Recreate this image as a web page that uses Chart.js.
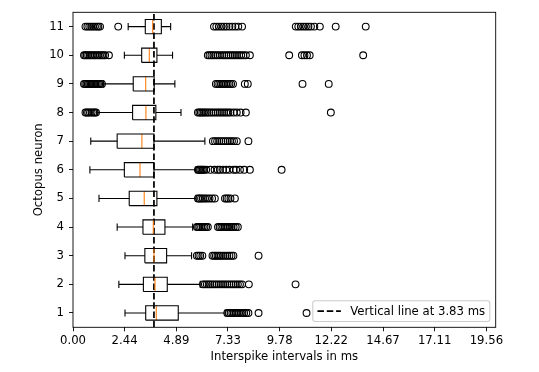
<!DOCTYPE html>
<html lang="en">
<head>
  <meta charset="UTF-8">
  <title>Interspike intervals per octopus neuron</title>
  <script src="https://cdn.jsdelivr.net/npm/chart.js@4.4.1/dist/chart.umd.min.js"></script>
  <style>
    body { margin: 0; background: #fff; }
  </style>
</head>
<body>
  <canvas id="chart" width="539" height="372"></canvas>
  <script>
    // neuron labels, bottom to top
    const neurons = ['1', '2', '3', '4', '5', '6', '7', '8', '9', '10', '11'];

    // box plot stats (ms)
    const whiskerLow  = [2.46, 2.17, 2.46, 2.09, 1.23, 0.80, 0.84, 1.15, 1.45, 2.43, 2.61];
    const q1          = [3.44, 3.33, 3.40, 3.31, 2.66, 2.43, 2.09, 2.82, 2.85, 3.25, 3.42];
    const medians     = [3.94, 3.88, 3.83, 3.80, 3.37, 3.17, 3.26, 3.45, 3.44, 3.61, 3.77];
    const q3          = [4.98, 4.46, 4.43, 4.35, 3.97, 3.83, 3.83, 3.92, 3.84, 3.97, 4.18];
    const whiskerHigh = [7.20, 6.02, 5.61, 5.66, 5.82, 5.82, 6.24, 5.11, 4.82, 4.71, 4.62];

    // fliers per neuron
    const outliers = [
      [7.3, 7.38, 7.46, 7.54, 7.62, 7.7, 7.78, 7.86, 7.94, 8.02, 8.1, 8.2, 8.3, 8.78, 11.05],
      [6.15, 6.24, 6.33, 6.42, 6.5, 6.6, 6.7, 6.8, 6.9, 7.0, 7.1, 7.2, 7.3, 7.4, 7.5, 7.6, 7.7, 7.8, 7.9, 8.0, 8.32, 10.53],
      [5.86, 5.94, 6.02, 6.12, 6.6, 6.68, 6.76, 6.84, 6.92, 7.0, 7.1, 7.2, 7.3, 7.4, 7.5, 7.59, 8.78],
      [5.86, 5.92, 5.98, 6.06, 6.14, 6.22, 6.3, 6.38, 6.86, 6.94, 7.02, 7.1, 7.18, 7.26, 7.34, 7.42, 7.5, 7.6, 7.7, 7.8],
      [5.91, 5.98, 6.06, 6.14, 6.24, 6.34, 6.46, 6.58, 6.71, 7.19, 7.27, 7.35, 7.45, 7.66],
      [5.91, 5.96, 6.02, 6.08, 6.14, 6.2, 6.3, 6.5, 6.7, 6.85, 6.95, 7.1, 7.25, 7.4, 7.6, 7.72, 7.9, 8.1, 8.37, 9.87],
      [6.62, 6.72, 6.82, 6.92, 7.02, 7.12, 7.22, 7.32, 7.42, 7.52, 7.62, 7.75, 8.3],
      [0.59, 0.66, 0.72, 0.8, 0.88, 0.96, 1.03, 1.09,
       5.91, 5.98, 6.05, 6.12, 6.2, 6.28, 6.36, 6.45, 6.55, 6.65, 6.75, 6.85, 6.95, 7.05, 7.15, 7.25, 7.35, 7.45, 7.6, 7.75, 7.93, 8.18, 12.2],
      [0.52, 0.58, 0.64, 0.7, 0.76, 0.82, 0.88, 0.94, 1.0, 1.06, 1.12, 1.18, 1.24, 1.3, 1.37,
       6.76, 6.84, 6.92, 7.0, 7.08, 7.16, 7.24, 7.32, 7.4, 7.48, 7.57, 8.13, 8.27, 10.86, 12.1],
      [0.52, 0.58, 0.65, 0.72, 0.8, 0.88, 0.96, 1.04, 1.12, 1.2, 1.28, 1.36, 1.44, 1.52, 1.7,
       6.38, 6.46, 6.55, 6.64, 6.74, 6.84, 6.95, 7.06, 7.16, 7.26, 7.36, 7.46, 7.56, 7.66, 7.76, 7.86, 7.96, 8.06, 8.18, 8.37,
       10.23, 10.83, 10.95, 11.07, 11.2, 13.73],
      [0.59, 0.68, 0.77, 0.86, 0.95, 1.04, 1.13, 1.2, 1.28, 2.14,
       6.67, 6.78, 6.9, 7.02, 7.14, 7.26, 7.4, 7.54, 7.68, 7.82, 8.0,
       10.54, 10.66, 10.78, 10.9, 11.02, 11.14, 11.26, 11.42, 11.68, 12.43, 13.85]
    ];

    const refLine = 3.83;
    const xTicks = [0, 2.44, 4.89, 7.33, 9.78, 12.22, 14.67, 17.11, 19.56];

    const FS = 11.7;
    Chart.defaults.font.family = '"DejaVu Sans", sans-serif';
    Chart.defaults.font.size = FS;
    Chart.defaults.color = '#000';

    // build the line pieces, null points break the path
    const gap = {x: null, y: null};
    const boxPts = [], whiskPts = [], medPts = [], fliers = [];
    neurons.forEach((n, i) => {
      const y = i + 1;
      boxPts.push({x: q1[i], y: y - 0.25}, {x: q3[i], y: y - 0.25}, {x: q3[i], y: y + 0.25},
                  {x: q1[i], y: y + 0.25}, {x: q1[i], y: y - 0.25}, gap);
      whiskPts.push({x: whiskerLow[i], y: y}, {x: q1[i], y: y}, gap,
                    {x: q3[i], y: y}, {x: whiskerHigh[i], y: y}, gap,
                    {x: whiskerLow[i], y: y - 0.125}, {x: whiskerLow[i], y: y + 0.125}, gap,
                    {x: whiskerHigh[i], y: y - 0.125}, {x: whiskerHigh[i], y: y + 0.125}, gap);
      medPts.push({x: medians[i], y: y - 0.25}, {x: medians[i], y: y + 0.25}, gap);
      outliers[i].forEach(v => fliers.push({x: v, y: y}));
    });

    const segment = (data, color, width) => ({
      data: data, showLine: true, spanGaps: false, borderColor: color, borderWidth: width,
      pointRadius: 0, fill: false, borderCapStyle: 'butt'
    });

    const legendLabel = 'Vertical line at ' + refLine.toFixed(2) + ' ms';

    const frameAndLegend = {
      id: 'frameAndLegend',
      afterDatasetsDraw(chart) {
        const ctx = chart.ctx, a = chart.chartArea;
        ctx.save();
        ctx.strokeStyle = '#000';
        ctx.lineWidth = 0.9;
        ctx.strokeRect(a.left, a.top, a.right - a.left, a.bottom - a.top);

        ctx.font = FS + 'px "DejaVu Sans"';
        const tw = ctx.measureText(legendLabel).width;
        const pad = 0.4 * FS, handle = 2 * FS, gapT = 0.8 * FS;
        const w = pad + handle + gapT + tw + pad;
        const h = 20.7;
        const right = a.right - 0.5 * FS, bottom = a.bottom - 0.5 * FS;
        const left = right - w, top = bottom - h;
        ctx.beginPath();
        ctx.roundRect(left, top, w, h, 2.5);
        ctx.fillStyle = 'rgba(255,255,255,0.8)';
        ctx.fill();
        ctx.strokeStyle = '#cccccc';
        ctx.lineWidth = 1.1;
        ctx.stroke();

        const cy = top + h / 2;
        ctx.beginPath();
        ctx.setLineDash([6.5, 2.8]);
        ctx.strokeStyle = '#000';
        ctx.lineWidth = 1.75;
        ctx.moveTo(left + pad, cy);
        ctx.lineTo(left + pad + handle, cy);
        ctx.stroke();
        ctx.setLineDash([]);
        ctx.fillStyle = '#000';
        ctx.textBaseline = 'middle';
        ctx.textAlign = 'left';
        ctx.fillText(legendLabel, left + pad + handle + gapT, cy + 0.5);
        ctx.restore();
      }
    };

    const ctx = document.getElementById('chart').getContext('2d');
    const chart = new Chart(ctx, {
      type: 'scatter',
      data: {
        datasets: [
          segment(boxPts, '#000', 1.1),
          segment(whiskPts, '#000', 1.1),
          segment(medPts, '#ff7f0e', 1.1),
          {
            data: fliers, showLine: false, pointStyle: 'circle', pointRadius: 3.4,
            pointBorderColor: '#000', pointBackgroundColor: 'rgba(0,0,0,0)', pointBorderWidth: 1.1
          },
          Object.assign(segment([{x: refLine, y: 0.5}, {x: refLine, y: 11.5}], '#000', 1.75),
                        {borderDash: [6.5, 2.8]})
        ]
      },
      options: {
        responsive: false,
        animation: false,
        events: [],
        devicePixelRatio: 1,
        layout: { padding: { top: 12.3, right: 43.3, left: 0, bottom: 0 } },
        plugins: { legend: { display: false }, tooltip: { enabled: false } },
        scales: {
          x: {
            type: 'linear', min: 0, max: 20,
            afterBuildTicks: s => { s.ticks = xTicks.map(v => ({value: v})); },
            afterFit: s => { s.height = 44.7; },
            ticks: { callback: v => v.toFixed(2), autoSkip: false, maxRotation: 0, padding: 3 },
            grid: { display: true, drawOnChartArea: false, drawTicks: true, tickLength: 4,
                    tickColor: '#000', lineWidth: 0.9 },
            border: { display: false },
            title: { display: true, text: 'Interspike intervals in ms', padding: { top: 0, bottom: 8.3 } }
          },
          y: {
            type: 'linear', min: 0.5, max: 11.5,
            afterBuildTicks: s => { s.ticks = neurons.map((n, i) => ({value: i + 1})); },
            afterFit: s => { s.width = 73; },
            ticks: { callback: v => neurons[v - 1], autoSkip: false, padding: 5 },
            grid: { display: true, drawOnChartArea: false, drawTicks: true, tickLength: 4,
                    tickColor: '#000', lineWidth: 0.9 },
            border: { display: false },
            title: { display: true, text: 'Octopus neuron', padding: { top: 32, bottom: 0 } }
          }
        }
      },
      plugins: [frameAndLegend]
    });
  </script>
</body>
</html>
